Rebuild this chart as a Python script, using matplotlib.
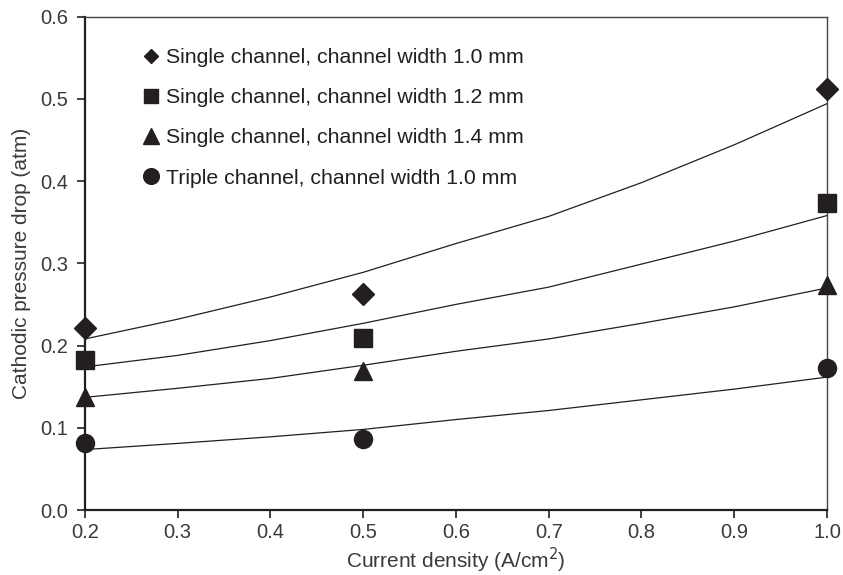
import matplotlib
matplotlib.use("Agg")
import matplotlib.pyplot as plt

plt.rcParams['font.family'] = ['Liberation Sans', 'DejaVu Sans']

# Measured pressure drop at three current densities
current = [0.2, 0.5, 1.0]
single_10 = [0.221, 0.263, 0.512]
single_12 = [0.183, 0.209, 0.373]
single_14 = [0.137, 0.169, 0.273]
triple_10 = [0.081, 0.086, 0.173]

# Trend lines, sampled every 0.1 A/cm2
trend_x = [0.2, 0.3, 0.4, 0.5, 0.6, 0.7, 0.8, 0.9, 1.0]
trend_single_10 = [0.208, 0.232, 0.259, 0.289, 0.324, 0.357, 0.398, 0.444, 0.494]
trend_single_12 = [0.174, 0.188, 0.206, 0.227, 0.250, 0.271, 0.299, 0.327, 0.358]
trend_single_14 = [0.137, 0.148, 0.160, 0.176, 0.193, 0.208, 0.227, 0.247, 0.270]
trend_triple_10 = [0.0735, 0.081, 0.089, 0.098, 0.110, 0.121, 0.134, 0.147, 0.1616]

labels = [
    "Single channel, channel width 1.0 mm",
    "Single channel, channel width 1.2 mm",
    "Single channel, channel width 1.4 mm",
    "Triple channel, channel width 1.0 mm",
]

ink = "#231f20"
grey_txt = "#3a3a3a"

fig = plt.figure(figsize=(8.43, 5.75), dpi=100)
ax = fig.add_axes([0.1008, 0.113, 0.8802, 0.8583])

# marker, size on the plot, size in the legend
series = [
    (single_10, trend_single_10, "D", 11, 7.2),
    (single_12, trend_single_12, "s", 13, 10.5),
    (single_14, trend_single_14, "^", 13, 12),
    (triple_10, trend_triple_10, "o", 13, 11.3),
]
for (vals, trend, mk, ms, _), lab in zip(series, labels):
    ax.plot(trend_x, trend, color=ink, lw=0.9, zorder=2)
    ax.plot(current, vals, ls="none", marker=mk, ms=ms, color=ink,
            label=lab, clip_on=False, zorder=3)

ax.set_xlim(0.2, 1.0)
ax.set_ylim(0.0, 0.6)
ax.set_xticks([0.2, 0.3, 0.4, 0.5, 0.6, 0.7, 0.8, 0.9, 1.0])
ax.set_yticks([0.0, 0.1, 0.2, 0.3, 0.4, 0.5, 0.6])
ax.xaxis.set_major_formatter(matplotlib.ticker.FormatStrFormatter("%.1f"))
ax.yaxis.set_major_formatter(matplotlib.ticker.FormatStrFormatter("%.1f"))
ax.tick_params(direction="out", length=5.5, width=1.2, colors=ink,
               labelsize=14.5, labelcolor=grey_txt, pad=4)
ax.tick_params(axis="y", pad=6.5)

for side in ["left", "bottom"]:
    ax.spines[side].set_linewidth(1.6)
    ax.spines[side].set_color(ink)
for side in ["top", "right"]:
    ax.spines[side].set_linewidth(1.0)
    ax.spines[side].set_color("#444444")

ax.set_xlabel("Current density (A/cm$^2$)", fontsize=15, color=grey_txt, labelpad=2.5)
ax.set_ylabel("Cathodic pressure drop (atm)", fontsize=15, color=grey_txt, labelpad=7)

leg = ax.legend(loc="upper left", bbox_to_anchor=(0.055, 0.975), frameon=False,
                fontsize=15.3, handlelength=0.55, handletextpad=0.45,
                labelspacing=1.0)
for t in leg.get_texts():
    t.set_color(ink)
for h, s in zip(leg.legend_handles, series):
    h.set_markersize(s[4])

fig.savefig("out.png", dpi=100)
